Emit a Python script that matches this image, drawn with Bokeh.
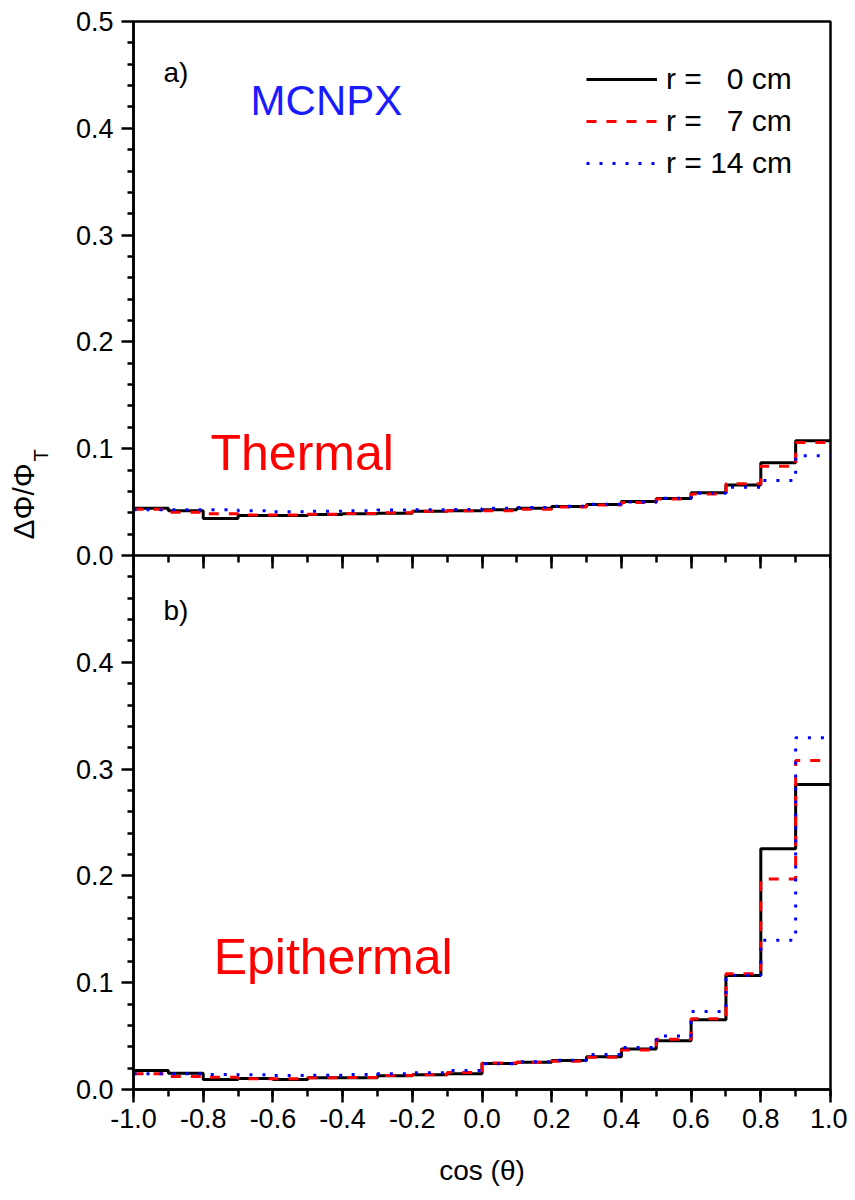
from bokeh.plotting import figure
from bokeh.models import (Range1d, LinearAxis, SingleIntervalTicker, FixedTicker,
                          PrintfTickFormatter, CustomJSTickFormatter, Label, Legend, LegendItem)
from bokeh.embed import file_html
from bokeh.resources import INLINE

# ---------------- data ----------------
bin_edges = [-1.0, -0.9, -0.8, -0.7, -0.6, -0.5, -0.4, -0.3, -0.2, -0.1,
             0.0, 0.1, 0.2, 0.3, 0.4, 0.5, 0.6, 0.7, 0.8, 0.9, 1.0]

# a) Thermal
thermal_r0 = [0.0443, 0.0420, 0.0346, 0.0375, 0.0375, 0.0384, 0.0390, 0.0396, 0.0415, 0.0420,
              0.0428, 0.0443, 0.0459, 0.0478, 0.0506, 0.0534, 0.0587, 0.0659, 0.0868, 0.1074]
thermal_r7 = [0.0434, 0.0406, 0.0390, 0.0380, 0.0380, 0.0387, 0.0393, 0.0400, 0.0415, 0.0420,
              0.0420, 0.0434, 0.0453, 0.0474, 0.0496, 0.0530, 0.0577, 0.0671, 0.0836, 0.1058]
thermal_r14 = [0.0428, 0.0428, 0.0428, 0.0420, 0.0410, 0.0415, 0.0420, 0.0425, 0.0428, 0.0431,
               0.0443, 0.0450, 0.0462, 0.0480, 0.0502, 0.0537, 0.0584, 0.0640, 0.0702, 0.0933]

# b) Epithermal
epi_r0 = [0.0178, 0.0153, 0.0094, 0.0103, 0.0094, 0.0109, 0.0109, 0.0128, 0.0137, 0.0147,
          0.0243, 0.0256, 0.0272, 0.0306, 0.0380, 0.0456, 0.0652, 0.1067, 0.2254, 0.2856]
epi_r7 = [0.0147, 0.0122, 0.0115, 0.0100, 0.0100, 0.0110, 0.0112, 0.0130, 0.0137, 0.0159,
          0.0247, 0.0256, 0.0265, 0.0303, 0.0370, 0.0470, 0.0662, 0.1083, 0.1970, 0.3080]
epi_r14 = [0.0147, 0.0147, 0.0140, 0.0137, 0.0130, 0.0134, 0.0140, 0.0147, 0.0156, 0.0178,
           0.0240, 0.0259, 0.0275, 0.0328, 0.0393, 0.0502, 0.0730, 0.1070, 0.1398, 0.3293]

series_labels = ["r = \u00a0\u00a00 cm", "r = \u00a0\u00a07 cm", "r = 14 cm"]
series_colors = ["black", "#ff0000", "#0000ff"]
series_dash = ["solid", "10 10", "3 10"]

y_ticks_top = [0.0, 0.1, 0.2, 0.3, 0.4, 0.5]        # panel a) tick values
y_ticks_bottom = [0.0, 0.1, 0.2, 0.3, 0.4]          # panel b) tick values
y_minor = [0.02, 0.04, 0.06, 0.08, 0.12, 0.14, 0.16, 0.18, 0.22, 0.24, 0.26, 0.28,
           0.32, 0.34, 0.36, 0.38, 0.42, 0.44, 0.46, 0.48]

FONT = "Liberation Sans"
NBSP = "\u00a0"

# panel b) lives in y in [0, 0.5] of the default range; panel a) is stacked on top
PANEL_A_OFFSET = 0.5

p = figure(frame_width=697, frame_height=1068,
           x_range=Range1d(-1.0, 1.0), y_range=Range1d(0.0, 1.0),
           x_axis_location=None, y_axis_location=None,
           output_backend="svg", toolbar_location=None,
           min_border_left=133, min_border_right=17, min_border_top=21, min_border_bottom=100)
p.extra_y_ranges = {"top": Range1d(-PANEL_A_OFFSET, 1.0 - PANEL_A_OFFSET)}
p.grid.visible = False
p.outline_line_color = "black"
p.outline_line_width = 2.5
p.outline_line_alpha = 1.0
p.background_fill_color = "white"
p.border_fill_color = "white"


def style_axis(ax):
    ax.axis_line_width = 2.5
    ax.axis_line_color = "black"
    ax.major_tick_line_width = 2.5
    ax.minor_tick_line_width = 2.5
    ax.major_tick_line_color = "black"
    ax.minor_tick_line_color = "black"
    ax.major_tick_in = 0
    ax.minor_tick_in = 0
    ax.major_tick_out = 12
    ax.minor_tick_out = 6
    ax.major_label_text_color = "black"


fmt = PrintfTickFormatter(format="%.1f")

# shared left axis: ticks of panel b) then panel a) (shifted up by the panel offset)
left_ticks = y_ticks_bottom + [t + PANEL_A_OFFSET for t in y_ticks_top]
left_minor = y_minor + [t + PANEL_A_OFFSET for t in y_minor]
ax_y = LinearAxis(ticker=FixedTicker(ticks=left_ticks, minor_ticks=left_minor),
                  formatter=CustomJSTickFormatter(
                      args=dict(off=PANEL_A_OFFSET),
                      code="const v = tick >= off - 1e-9 ? tick - off : tick; return v.toFixed(1);"))
style_axis(ax_y)
ax_y.major_label_text_font = FONT
ax_y.major_label_text_font_size = "27px"
ax_y.major_label_standoff = 8
p.add_layout(ax_y, "left")


def title_axis(text, size, standoff):
    ax = LinearAxis(ticker=FixedTicker(ticks=[]), axis_label=text)
    ax.axis_line_color = None
    ax.major_tick_out = 0
    ax.minor_tick_out = 0
    ax.axis_label_standoff = standoff
    ax.axis_label_text_font = FONT
    ax.axis_label_text_font_size = size
    ax.axis_label_text_font_style = "normal"
    ax.axis_label_text_color = "black"
    return ax


# y title ΔΦ/Φ_T: the subscript (closer to the frame) then the main symbol
p.add_layout(title_axis(NBSP * 36 + "T", "20px", 21), "left")
p.add_layout(title_axis(NBSP * 13 + "\u0394\u03a6/\u03a6", "30px", -13), "left")

ax_x = LinearAxis(ticker=SingleIntervalTicker(interval=0.2, num_minor_ticks=2),
                  formatter=fmt, axis_label="cos (\u03b8)")
style_axis(ax_x)
ax_x.major_tick_out = 13
ax_x.minor_tick_out = 7
ax_x.major_label_text_font = FONT
ax_x.major_label_text_font_size = "27px"
ax_x.major_label_standoff = 6
ax_x.axis_label_text_font = FONT
ax_x.axis_label_text_font_size = "28px"
ax_x.axis_label_text_font_style = "normal"
ax_x.axis_label_text_color = "black"
ax_x.axis_label_standoff = 24
p.add_layout(ax_x, "below")

ax_mid = LinearAxis(ticker=SingleIntervalTicker(interval=0.2, num_minor_ticks=2),
                    formatter=fmt, fixed_location=PANEL_A_OFFSET)
style_axis(ax_mid)
ax_mid.major_tick_out = 0
ax_mid.minor_tick_out = 0
ax_mid.major_tick_in = 13
ax_mid.minor_tick_in = 7
ax_mid.major_label_text_font_size = "0px"
ax_mid.major_label_text_alpha = 0
ax_mid.major_label_standoff = 0
p.add_layout(ax_mid, "above")

# ---------------- steps ----------------
top_sets = [thermal_r0, thermal_r7, thermal_r14]
bot_sets = [epi_r0, epi_r7, epi_r14]
legend_renderers = []
for vals, col, dash in zip(top_sets, series_colors, series_dash):
    r = p.step(x=bin_edges, y=vals + [vals[-1]], mode="after", y_range_name="top",
               line_color=col, line_width=3, line_dash=dash)
    legend_renderers.append(r)
for vals, col, dash in zip(bot_sets, series_colors, series_dash):
    p.step(x=bin_edges, y=vals + [vals[-1]], mode="after",
           line_color=col, line_width=3, line_dash=dash)

legend = Legend(items=[LegendItem(label=lab, renderers=[r])
                       for lab, r in zip(series_labels, legend_renderers)],
                location=(453, 909), orientation="vertical",
                border_line_color=None, background_fill_alpha=0.0,
                padding=0, margin=0, spacing=8,
                glyph_width=71, glyph_height=34, label_height=34, label_standoff=9,
                label_text_font=FONT, label_text_font_size="30px",
                label_text_color="black", label_text_baseline="middle")
p.add_layout(legend)

# ---------------- annotations ----------------
p.add_layout(Label(x=-0.914, y=0.452, y_range_name="top", text="a)",
                   text_font=FONT, text_font_size="28px", text_baseline="middle",
                   text_color="black"))
p.add_layout(Label(x=-0.664, y=0.426, y_range_name="top", text="MCNPX",
                   text_font=FONT, text_font_size="42px", text_baseline="middle",
                   text_color="#1a1aff"))
p.add_layout(Label(x=-0.779, y=0.0964, y_range_name="top", text="Thermal",
                   text_font=FONT, text_font_size="50px", text_baseline="alphabetic",
                   text_color="#ff0000"))
p.add_layout(Label(x=-0.914, y=0.4485, text="b)",
                   text_font=FONT, text_font_size="28px", text_baseline="middle",
                   text_color="black"))
p.add_layout(Label(x=-0.770, y=0.1236, text="Epithermal",
                   text_font=FONT, text_font_size="50px", text_baseline="alphabetic",
                   text_color="#ff0000"))

open("out.html", "w").write(file_html(p, INLINE))
